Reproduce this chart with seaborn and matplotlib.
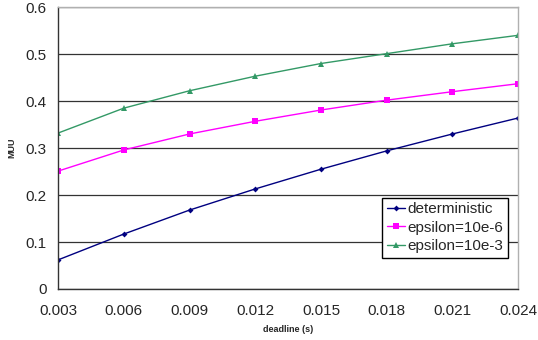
import matplotlib
matplotlib.use("Agg")
import matplotlib.pyplot as plt
import seaborn as sns
import pandas as pd

deadline = [0.003, 0.006, 0.009, 0.012, 0.015, 0.018, 0.021, 0.024]
deterministic = [0.062, 0.117, 0.168, 0.213, 0.255, 0.294, 0.330, 0.364]
eps6 = [0.251, 0.296, 0.330, 0.357, 0.381, 0.402, 0.420, 0.437]
eps3 = [0.332, 0.385, 0.422, 0.453, 0.480, 0.501, 0.522, 0.540]
series_names = ["deterministic", "epsilon=10e-6", "epsilon=10e-3"]
xticks = [0.003, 0.006, 0.009, 0.012, 0.015, 0.018, 0.021, 0.024]
yticks = [0, 0.1, 0.2, 0.3, 0.4, 0.5, 0.6]

sns.set_style("white")
plt.rcParams['font.family'] = ['Liberation Sans', 'DejaVu Sans']

df = pd.DataFrame({
    "deadline": deadline * 3,
    "MUU": deterministic + eps6 + eps3,
    "series": [series_names[0]] * 8 + [series_names[1]] * 8 + [series_names[2]] * 8,
})

fig = plt.figure(figsize=(5.38, 3.4), dpi=100)
ax = fig.add_axes([0.108, 0.150, 0.855, 0.829])

colors = {"deterministic": "#000080", "epsilon=10e-6": "#FF00FF", "epsilon=10e-3": "#339966"}
markers = {"deterministic": "D", "epsilon=10e-6": "s", "epsilon=10e-3": "^"}
sizes = {"deterministic": 3.0, "epsilon=10e-6": 4.5, "epsilon=10e-3": 4.5}

for name in series_names:
    sub = df[df["series"] == name]
    sns.lineplot(data=sub, x="deadline", y="MUU", ax=ax, color=colors[name],
                 marker=markers[name], markersize=sizes[name], markeredgewidth=0,
                 linewidth=1.0, label=name)

ax.set_xlim(0.003, 0.024)
ax.set_ylim(0, 0.6)
ax.set_xticks(xticks)
ax.set_xticklabels([f"{v:.3f}" for v in xticks], fontsize=11)
ax.set_yticks(yticks)
ax.set_yticklabels(["0"] + [f"{v:.1f}" for v in yticks[1:]], fontsize=11)
ax.yaxis.grid(True, color="#333333", linewidth=0.9)
ax.set_axisbelow(True)

for s in ["top", "right"]:
    ax.spines[s].set_color("#b0b0b0")
    ax.spines[s].set_linewidth(1.0)
for s in ["left", "bottom"]:
    ax.spines[s].set_color("#333333")
    ax.spines[s].set_linewidth(1.0)

ax.tick_params(axis="x", direction="out", length=4, width=1, color="#333333", pad=7)
ax.tick_params(axis="y", length=0, pad=8)

ax.set_xlabel("deadline (s)", fontsize=6.5, fontweight="bold", labelpad=5)
ax.set_ylabel("MUU", fontsize=6.5, fontweight="bold", labelpad=7)

leg = ax.legend(loc="lower right", bbox_to_anchor=(0.978, 0.11), fontsize=11,
                frameon=True, fancybox=False, framealpha=1, edgecolor="black",
                handlelength=1.2, handletextpad=0.15, borderpad=0.3, labelspacing=0.3,
                borderaxespad=0)
leg.get_frame().set_linewidth(1.0)

fig.savefig("out.png", dpi=100)
